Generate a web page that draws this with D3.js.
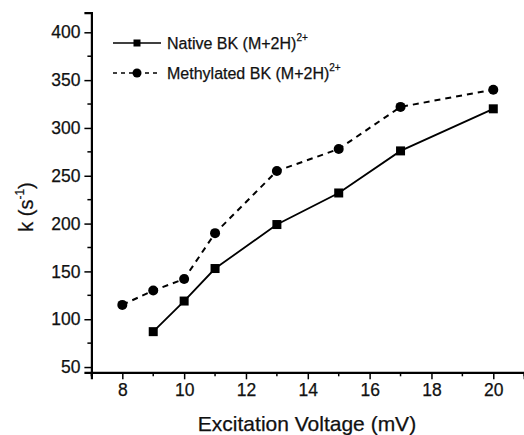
<!DOCTYPE html>
<html>
<head>
<meta charset="utf-8">
<script src="https://cdn.jsdelivr.net/npm/d3@7"></script>
<style>
  body { margin: 0; background: #fff; }
  svg { display: block; font-family: "Liberation Sans", Arial, sans-serif; }
  text { stroke: #111; stroke-width: 0.25px; }
</style>
</head>
<body>
<svg id="chart" width="524" height="435"></svg>
<script>
'use strict';

const nativeX = [9, 10, 11, 13, 15, 17, 20];
const nativeK = [87, 119, 153, 199, 232, 276, 320];
const methylX = [8, 9, 10, 11, 13, 15, 17, 20];
const methylK = [115, 130, 142, 190, 255, 278, 322, 340];
const xTicks = [8, 10, 12, 14, 16, 18, 20];
const yTicks = [50, 100, 150, 200, 250, 300, 350, 400];

const svg = d3.select('#chart');

const x = d3.scaleLinear().domain([7, 21]).range([91.4, 524.2]);
const y = d3.scaleLinear().domain([44.5, 420.5]).range([372.3, 12.7]);

// minor ticks
const xMinor = d3.range(7, 22, 1).filter(v => v % 2 === 1);
const yMinor = d3.range(75, 420, 50);

const gx = svg.append('g').attr('transform', `translate(0,${y(44.5)})`);
gx.call(d3.axisBottom(x).tickValues(xTicks).tickSize(7).tickPadding(4).tickFormat(d3.format('d')));
gx.selectAll('.tick line').attr('stroke-width', 1.5);
gx.append('g').selectAll('line').data(xMinor).join('line')
  .attr('x1', d => x(d)).attr('x2', d => x(d))
  .attr('y1', 0).attr('y2', 4)
  .attr('stroke', '#000').attr('stroke-width', 1.5);

const gy = svg.append('g').attr('transform', `translate(${x(7)},0)`);
gy.call(d3.axisLeft(y).tickValues(yTicks).tickSize(7).tickPadding(4).tickFormat(d3.format('d')));
gy.selectAll('.tick line').attr('stroke-width', 1.5);
gy.append('g').selectAll('line').data(yMinor).join('line')
  .attr('y1', d => y(d)).attr('y2', d => y(d))
  .attr('x1', 0).attr('x2', -4)
  .attr('stroke', '#000').attr('stroke-width', 1.5);

[gx, gy].forEach(g => {
  g.select('.domain').attr('stroke-width', 2.2);
  g.selectAll('.tick text').attr('font-size', 17.5).attr('fill', '#111')
    .attr('font-family', '"Liberation Sans", Arial, sans-serif');
});

// lines
const line = d3.line().x(d => x(d[0])).y(d => y(d[1]));
const nativePts = nativeX.map((v, i) => [v, nativeK[i]]);
const methylPts = methylX.map((v, i) => [v, methylK[i]]);

svg.append('path').datum(methylPts).attr('d', line)
  .attr('fill', 'none').attr('stroke', '#000').attr('stroke-width', 2)
  .attr('stroke-dasharray', '6,5');
svg.append('path').datum(nativePts).attr('d', line)
  .attr('fill', 'none').attr('stroke', '#000').attr('stroke-width', 1.8);

svg.append('g').selectAll('circle').data(methylPts).join('circle')
  .attr('cx', d => x(d[0])).attr('cy', d => y(d[1])).attr('r', 5)
  .attr('fill', '#000');
svg.append('g').selectAll('rect').data(nativePts).join('rect')
  .attr('x', d => x(d[0]) - 4.5).attr('y', d => y(d[1]) - 4.5)
  .attr('width', 9).attr('height', 9)
  .attr('fill', '#000');

// legend
const legend = svg.append('g').attr('font-size', 16).attr('fill', '#111');
const rows = [
  { label: 'Native BK (M+2H)', dash: null, shape: 'square', cy: 43 },
  { label: 'Methylated BK (M+2H)', dash: '4,4', shape: 'circle', cy: 73 }
];
rows.forEach(r => {
  legend.append('line')
    .attr('x1', 113).attr('x2', 161).attr('y1', r.cy).attr('y2', r.cy)
    .attr('stroke', '#000').attr('stroke-width', 1.6)
    .attr('stroke-dasharray', r.dash);
  if (r.shape === 'square') {
    legend.append('rect').attr('x', 133.5).attr('y', r.cy - 3.5)
      .attr('width', 7).attr('height', 7).attr('fill', '#000');
  } else {
    legend.append('circle').attr('cx', 137).attr('cy', r.cy).attr('r', 4.5)
      .attr('fill', '#000');
  }
  const t = legend.append('text').attr('x', 167).attr('y', r.cy + 6);
  t.append('tspan').text(r.label);
  t.append('tspan').attr('font-size', 10).attr('dy', -8).text('2+');
});

// axis titles
svg.append('text')
  .attr('x', (195 + 419) / 2).attr('y', 431)
  .attr('text-anchor', 'middle').attr('font-size', 21).attr('fill', '#111')
  .text('Excitation Voltage (mV)');

const yt = svg.append('text')
  .attr('transform', 'translate(33,207) rotate(-90)')
  .attr('text-anchor', 'middle').attr('font-size', 20).attr('fill', '#111');
yt.append('tspan').text('k (s');
yt.append('tspan').attr('font-size', 12).attr('dy', -9).text('-1');
yt.append('tspan').attr('dy', 9).text(')');
</script>
</body>
</html>
